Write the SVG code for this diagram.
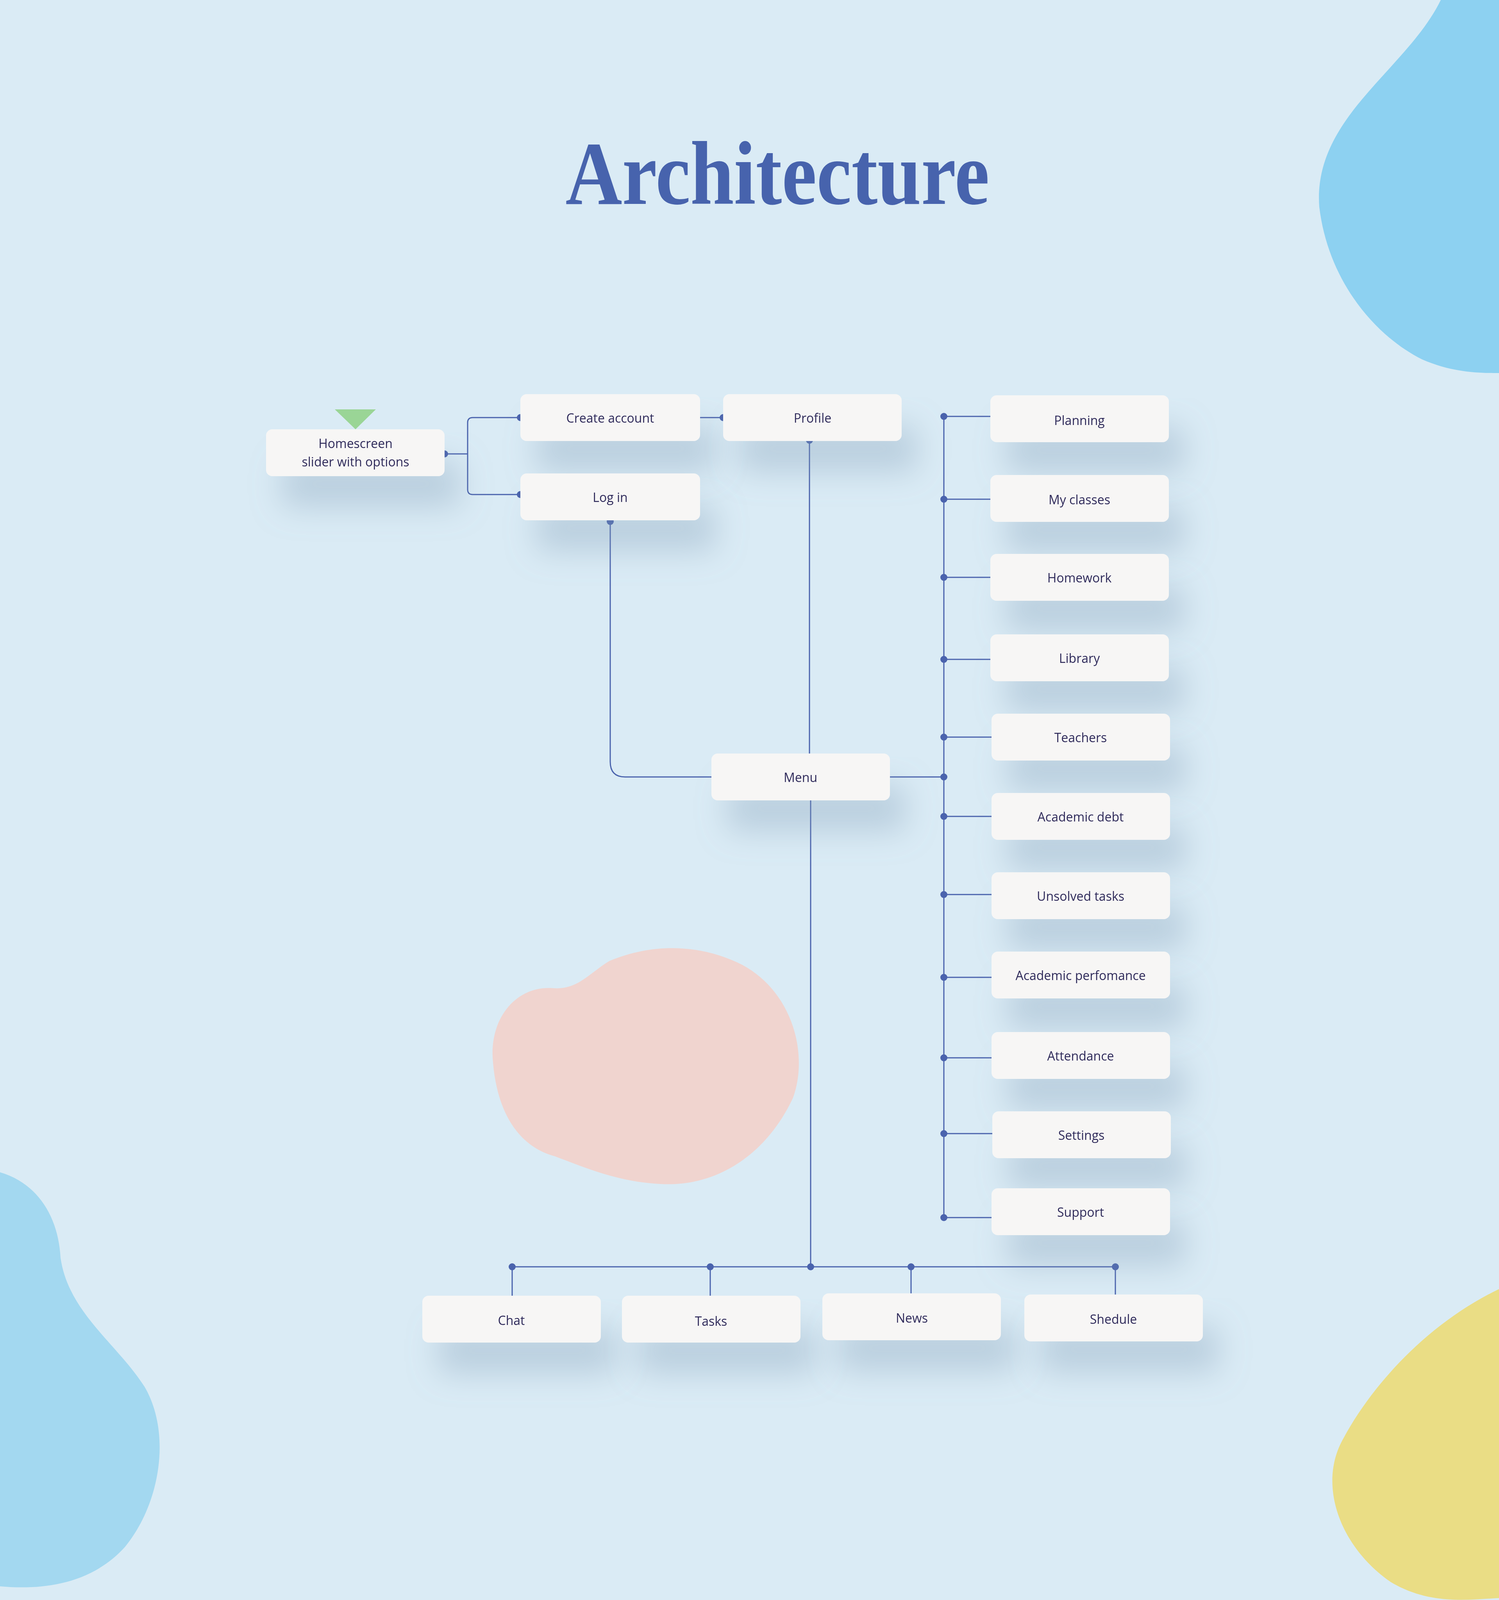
<svg xmlns="http://www.w3.org/2000/svg" width="3837" height="4683" viewBox="0 0 3837 4683">
<style>
.box{fill:#f7f6f5}
.lbl{font-family:"Open Sans","Noto Sans",sans-serif;font-size:32px;fill:#2f2a5a;text-anchor:middle;dominant-baseline:central}
.ln{stroke:#4a63ad;stroke-width:3;fill:none}
.dot{fill:#4a63ad}
.title{font-family:"Liberation Serif",serif;font-weight:bold;fill:#4763ad;text-anchor:middle}
</style>
<defs>
<filter id="sh" x="-40%" y="-60%" width="200%" height="300%">
<feGaussianBlur in="SourceAlpha" stdDeviation="40" result="b"/>
<feOffset in="b" dx="40" dy="80" result="o"/>
<feFlood flood-color="#7f9bb5" flood-opacity="0.35"/>
<feComposite in2="o" operator="in" result="s"/>
<feMerge><feMergeNode in="s"/><feMergeNode in="SourceGraphic"/></feMerge>
</filter>
</defs>
<rect width="3837" height="4683" fill="#daebf5"/>
<path d="M3688,0 C3600,180 3360,300 3377,530 C3400,720 3520,860 3640,920 C3720,955 3790,955 3837,955 L3837,0 Z" fill="#8dd1f1"/>
<path d="M0,3001 C100,3030 150,3120 155,3220 C175,3360 300,3440 370,3550 C440,3670 410,3850 320,3960 C230,4060 100,4070 0,4061 Z" fill="#a3d8f0"/>
<path d="M3837,3300 C3650,3390 3510,3550 3440,3680 C3370,3800 3430,3960 3560,4050 C3660,4110 3760,4095 3837,4091 Z" fill="#eadd85"/>
<path d="M1560,2460 C1680,2410 1800,2420 1900,2470 C2030,2540 2070,2700 2030,2810 C1970,2940 1850,3040 1690,3031 C1580,3025 1500,2990 1420,2960 C1310,2930 1270,2820 1262,2720 C1250,2610 1320,2520 1420,2530 C1480,2533 1510,2490 1560,2460 Z" fill="#f0d4cf"/>
<text class="title" x="1990" y="522" font-size="230" textLength="1085" lengthAdjust="spacingAndGlyphs">Architecture</text>
<text class="title" x="1915" y="4288" font-size="230" textLength="930" lengthAdjust="spacingAndGlyphs">Wireframe</text>
<polygon points="857,1048 962,1048 910,1099" fill="#9ad596"/>
<g id="connectors">
<path class="ln" d="M1138,1162 H1197 M1332,1069 H1210 Q1197,1069 1197,1082 V1253 Q1197,1266 1210,1266 H1332"/>
<path class="ln" d="M1792,1069 H1851"/>
<path class="ln" d="M2072,1129 V1929"/>
<path class="ln" d="M1562,1335 V1950 Q1562,1989 1600,1989 H1821"/>
<path class="ln" d="M2278,1989 H2416 M2416,1066 V3117"/>
<path class="ln" d="M2416,1066 H2535 M2416,1278 H2535 M2416,1478 H2535 M2416,1688 H2535 M2416,1887 H2538 M2416,2090 H2538 M2416,2290 H2538 M2416,2502 H2538 M2416,2708 H2538 M2416,2902 H2540 M2416,3117 H2538"/>
<path class="ln" d="M2075,2048 V3243 M1311,3243 H2855 M1311,3243 V3317 M1818,3243 V3317 M2332,3243 V3311 M2855,3243 V3314"/>
<g class="dot">
<circle cx="1138" cy="1162" r="9"/><circle cx="1332" cy="1069" r="9"/><circle cx="1332" cy="1266" r="9"/>
<circle cx="1851" cy="1069" r="9"/><circle cx="2072" cy="1127" r="9"/><circle cx="1562" cy="1335" r="9"/>
<circle cx="2416" cy="1066" r="9"/><circle cx="2416" cy="1278" r="9"/><circle cx="2416" cy="1478" r="9"/><circle cx="2416" cy="1688" r="9"/><circle cx="2416" cy="1887" r="9"/><circle cx="2416" cy="1989" r="9"/><circle cx="2416" cy="2090" r="9"/><circle cx="2416" cy="2290" r="9"/><circle cx="2416" cy="2502" r="9"/><circle cx="2416" cy="2708" r="9"/><circle cx="2416" cy="2902" r="9"/><circle cx="2416" cy="3117" r="9"/>
<circle cx="1311" cy="3243" r="9"/><circle cx="1818" cy="3243" r="9"/><circle cx="2075" cy="3243" r="9"/><circle cx="2332" cy="3243" r="9"/><circle cx="2855" cy="3243" r="9"/>
</g>
</g>
<g id="n-home" filter="url(#sh)"><rect class="box" x="681" y="1099" width="457" height="120" rx="16"/><text class="lbl" x="910" y="1134">Homescreen</text><text class="lbl" x="910" y="1181">slider with options</text></g>
<g id="n-create" filter="url(#sh)"><rect class="box" x="1332" y="1009" width="460" height="120" rx="16"/><text class="lbl" x="1562" y="1069">Create account</text></g>
<g id="n-profile" filter="url(#sh)"><rect class="box" x="1851" y="1009" width="457" height="120" rx="16"/><text class="lbl" x="2080" y="1069">Profile</text></g>
<g id="n-login" filter="url(#sh)"><rect class="box" x="1332" y="1212" width="460" height="120" rx="16"/><text class="lbl" x="1562" y="1272">Log in</text></g>
<g id="n-menu" filter="url(#sh)"><rect class="box" x="1821" y="1929" width="457" height="120" rx="16"/><text class="lbl" x="2049" y="1989">Menu</text></g>
<g id="n-planning" filter="url(#sh)"><rect class="box" x="2535" y="1012" width="457" height="120" rx="16"/><text class="lbl" x="2763" y="1075">Planning</text></g>
<g id="n-classes" filter="url(#sh)"><rect class="box" x="2535" y="1216" width="457" height="120" rx="16"/><text class="lbl" x="2763" y="1278">My classes</text></g>
<g id="n-homework" filter="url(#sh)"><rect class="box" x="2535" y="1418" width="457" height="120" rx="16"/><text class="lbl" x="2763" y="1478">Homework</text></g>
<g id="n-library" filter="url(#sh)"><rect class="box" x="2535" y="1624" width="457" height="120" rx="16"/><text class="lbl" x="2763" y="1684">Library</text></g>
<g id="n-teachers" filter="url(#sh)"><rect class="box" x="2538" y="1827" width="457" height="120" rx="16"/><text class="lbl" x="2766" y="1887">Teachers</text></g>
<g id="n-debt" filter="url(#sh)"><rect class="box" x="2538" y="2030" width="457" height="120" rx="16"/><text class="lbl" x="2766" y="2090">Academic debt</text></g>
<g id="n-unsolved" filter="url(#sh)"><rect class="box" x="2538" y="2233" width="457" height="120" rx="16"/><text class="lbl" x="2766" y="2293">Unsolved tasks</text></g>
<g id="n-perf" filter="url(#sh)"><rect class="box" x="2538" y="2436" width="457" height="120" rx="16"/><text class="lbl" x="2766" y="2496">Academic perfomance</text></g>
<g id="n-attendance" filter="url(#sh)"><rect class="box" x="2538" y="2642" width="457" height="120" rx="16"/><text class="lbl" x="2766" y="2702">Attendance</text></g>
<g id="n-settings" filter="url(#sh)"><rect class="box" x="2540" y="2845" width="457" height="120" rx="16"/><text class="lbl" x="2768" y="2905">Settings</text></g>
<g id="n-support" filter="url(#sh)"><rect class="box" x="2538" y="3042" width="457" height="120" rx="16"/><text class="lbl" x="2766" y="3102">Support</text></g>
<g id="n-chat" filter="url(#sh)"><rect class="box" x="1081" y="3317" width="457" height="120" rx="16"/><text class="lbl" x="1309" y="3379">Chat</text></g>
<g id="n-tasks" filter="url(#sh)"><rect class="box" x="1592" y="3317" width="457" height="120" rx="16"/><text class="lbl" x="1820" y="3381">Tasks</text></g>
<g id="n-news" filter="url(#sh)"><rect class="box" x="2105" y="3311" width="457" height="120" rx="16"/><text class="lbl" x="2334" y="3373">News</text></g>
<g id="n-shedule" filter="url(#sh)"><rect class="box" x="2622" y="3314" width="457" height="120" rx="16"/><text class="lbl" x="2850" y="3376">Shedule</text></g>
</svg>
